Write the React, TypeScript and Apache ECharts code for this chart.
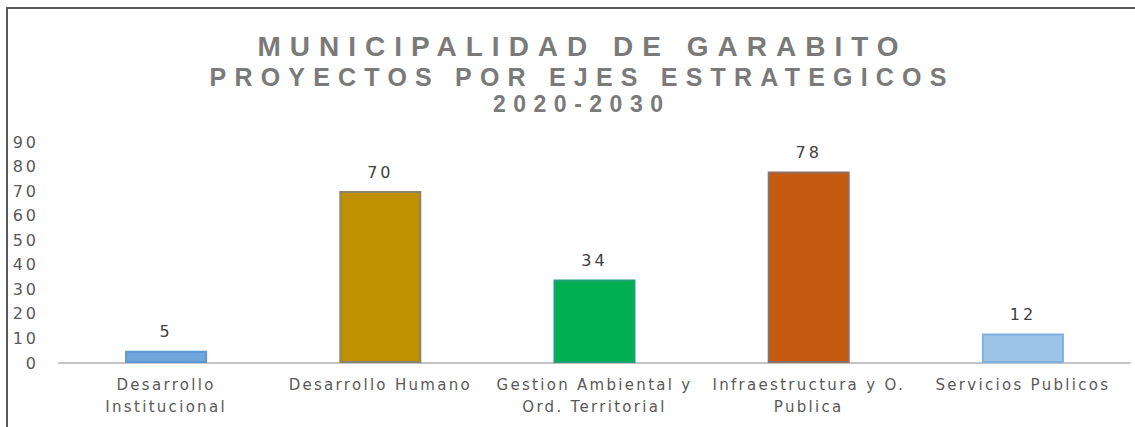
import React, { useEffect, useRef } from "react";
import * as echarts from "echarts";

const categories = [
  "Desarrollo\nInstitucional",
  "Desarrollo Humano",
  "Gestion Ambiental y\nOrd. Territorial",
  "Infraestructura y O.\nPublica",
  "Servicios Publicos",
];
const values = [5, 70, 34, 78, 12];
const barColors = ["#6fa6dc", "#bf9000", "#00b050", "#c55a11", "#9dc3e6"];
const barBorders = ["#5d97d1", "#8c8668", "#22a07a", "#8c7064", "#7fb0e0"];
const titleLines = ["MUNICIPALIDAD DE GARABITO", "PROYECTOS POR EJES ESTRATEGICOS", "2020-2030"];
const yMin = 0;
const yMax = 90;
const yInterval = 10;

const titleStyles = [
  { y: 46.5, size: 28, spacing: 9 },
  { y: 77, size: 25, spacing: 8.2 },
  { y: 103.5, size: 23, spacing: 7.5 },
];
const TITLE_X = 578;

export default function App() {
  const ref = useRef<HTMLDivElement>(null);

  useEffect(() => {
    const el = ref.current!;
    const chart = echarts.init(el, null, { renderer: "svg" });

    const option: any = {
      animation: false,
      backgroundColor: "#ffffff",
      grid: {
        left: 59,
        right: 5,
        top: 142,
        bottom: 64,
        containLabel: false,
        outerBoundsMode: "none",
      },
      graphic: [
        {
          type: "rect",
          z: -1,
          shape: { x: 7, y: 8, width: 1200, height: 500 },
          style: { fill: "none", stroke: "#5a5a5a", lineWidth: 2 },
          silent: true,
        },
        ...titleLines.map((t, i) => ({
          type: "text",
          x: TITLE_X + titleStyles[i].spacing / 2,
          y: titleStyles[i].y,
          silent: true,
          style: {
            text: t,
            fill: "#7a7a7a",
            fontSize: titleStyles[i].size,
            fontWeight: "bold",
            fontFamily: "Liberation Sans",
            textAlign: "center",
            textVerticalAlign: "middle",
          },
        })),
      ],
      xAxis: {
        type: "category",
        data: categories,
        axisLine: { show: true, lineStyle: { color: "#c4c4c4", width: 2 } },
        axisTick: { show: false },
        axisLabel: {
          interval: 0,
          color: "#595959",
          fontSize: 15,
          fontFamily: "DejaVu Sans",
          lineHeight: 22,
          margin: 11,
        },
        splitLine: { show: false },
      },
      yAxis: {
        type: "value",
        min: yMin,
        max: yMax,
        interval: yInterval,
        axisLine: { show: false },
        axisTick: { show: false },
        splitLine: { show: false },
        axisLabel: {
          color: "#595959",
          fontSize: 16,
          fontFamily: "DejaVu Sans",
          margin: 20,
        },
      },
      series: [
        {
          type: "bar",
          barWidth: 82,
          data: values.map((v, i) => ({
            value: v,
            itemStyle: {
              color: barColors[i],
              borderColor: barBorders[i],
              borderWidth: 2,
            },
          })),
          label: {
            show: true,
            position: "top",
            distance: 11,
            color: "#404040",
            fontSize: 16,
            fontFamily: "DejaVu Sans",
          },
        },
      ],
    };

    chart.setOption(option);

    const spacingMap: Record<string, number> = {};
    titleLines.forEach((t, i) => (spacingMap[t] = titleStyles[i].spacing));
    categories.forEach((c) => c.split("\n").forEach((l) => (spacingMap[l] = 2.3)));

    const apply = () => {
      el.querySelectorAll("text").forEach((t) => {
        const txt = (t.textContent || "").trim();
        if (spacingMap[txt] != null) {
          t.setAttribute("letter-spacing", String(spacingMap[txt]));
        } else if (/^\d+$/.test(txt)) {
          t.setAttribute("letter-spacing", "3");
        }
      });
    };
    apply();
    chart.on("finished", apply);
    const timer = setTimeout(apply, 50);

    return () => {
      clearTimeout(timer);
      chart.dispose();
    };
  }, []);

  return (
    <div
      ref={ref}
      style={{ position: "fixed", left: 0, top: 0, width: 1135, height: 427, background: "#fff" }}
    />
  );
}
